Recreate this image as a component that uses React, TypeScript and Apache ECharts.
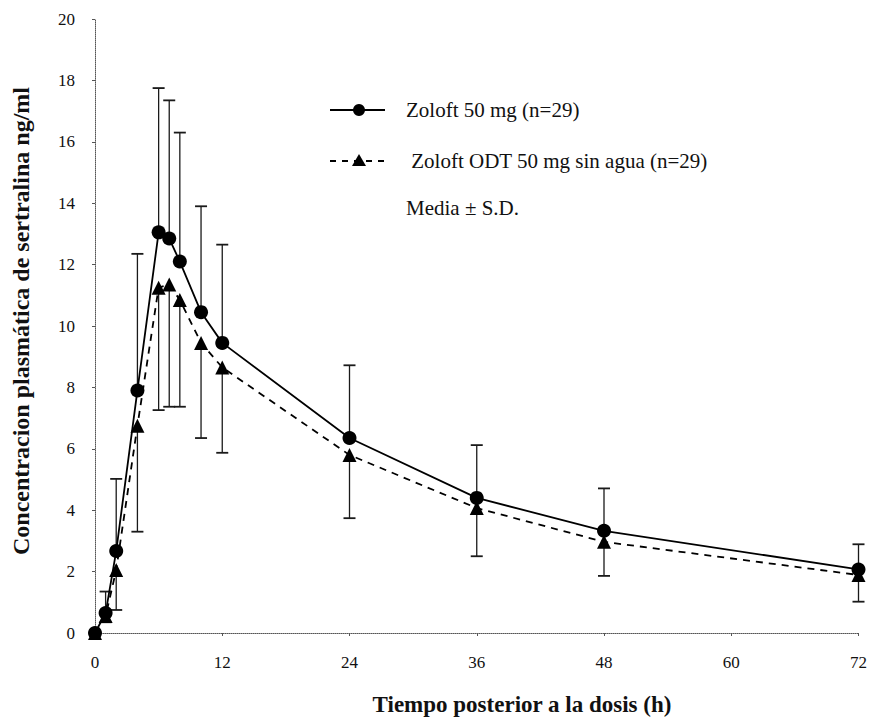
import React, { useEffect, useRef } from "react";
import * as echarts from "echarts";

const hours = [0, 1, 2, 4, 6, 7, 8, 10, 12, 24, 36, 48, 72];
const zoloftMean = [0, 0.65, 2.67, 7.9, 13.05, 12.85, 12.1, 10.45, 9.45, 6.35, 4.4, 3.33, 2.07];
const zoloftUpper = [0, 1.35, 5.02, 12.35, 17.75, 17.35, 16.3, 13.9, 12.65, 8.72, 6.12, 4.71, 2.89];
const odtMean = [0, 0.55, 2.05, 6.75, 11.25, 11.35, 10.85, 9.45, 8.65, 5.8, 4.07, 2.97, 1.89];
const odtLower = [0, 0.35, 0.75, 3.3, 7.26, 7.37, 7.37, 6.35, 5.87, 3.74, 2.5, 1.86, 1.02];
const xTicks = [0, 12, 24, 36, 48, 60, 72];
const yTicks = [0, 2, 4, 6, 8, 10, 12, 14, 16, 18, 20];
const legendLabels = ["Zoloft 50 mg (n=29)", " Zoloft ODT 50 mg sin agua (n=29)", "Media \u00b1 S.D."];
const xTitle = "Tiempo posterior a la dosis (h)";
const yTitle = "Concentracion plasm\u00e1tica de sertralina ng/ml";

const SERIF = "'Liberation Serif', 'DejaVu Serif', serif";

export default function App() {
  const ref = useRef<HTMLDivElement>(null);
  useEffect(() => {
    if (!ref.current) return;
    const chart = echarts.init(ref.current, null, { renderer: "svg" });
    const barData = (means: number[], bounds: number[]) =>
      hours.map((h, i) => [h, means[i], bounds[i]]).filter((d) => d[1] !== d[2]);
    const renderBar = (params: any, api: any) => {
      const x = api.value(0);
      const m = api.value(1);
      const b = api.value(2);
      const p1 = api.coord([x, m]);
      const p2 = api.coord([x, b]);
      return {
        type: "group",
        children: [
          { type: "line", shape: { x1: p1[0], y1: p1[1], x2: p2[0], y2: p2[1] }, style: { stroke: "#1a1a1a", lineWidth: 1.3 } },
          { type: "line", shape: { x1: p2[0] - 6, y1: p2[1], x2: p2[0] + 6, y2: p2[1] }, style: { stroke: "#1a1a1a", lineWidth: 1.8 } },
        ],
      };
    };
    chart.setOption({
      animation: false,
      backgroundColor: "#ffffff",
      grid: { left: 95, right: 7, top: 19, bottom: 85, containLabel: false },
      xAxis: {
        type: "value",
        min: 0,
        max: 72,
        interval: 12,
        axisLine: { show: true, lineStyle: { color: "#555", width: 1, type: "dotted" } },
        axisTick: { show: true, inside: false, length: 3, lineStyle: { color: "#555" } },
        axisLabel: {
          margin: 21,
          fontFamily: SERIF,
          fontSize: 17,
          color: "#111",
          formatter: (v: number) => (xTicks.includes(v) ? String(v) : ""),
        },
        splitLine: { show: false },
      },
      yAxis: {
        type: "value",
        min: 0,
        max: 20,
        interval: 2,
        axisLine: { show: true, lineStyle: { color: "#555", width: 1, type: "dotted" } },
        axisTick: { show: true, inside: false, length: 3, lineStyle: { color: "#555" } },
        axisLabel: {
          margin: 20,
          fontFamily: SERIF,
          fontSize: 17,
          color: "#111",
          formatter: (v: number) => (yTicks.includes(v) ? String(v) : ""),
        },
        splitLine: { show: false },
      },
      series: [
        {
          type: "custom",
          name: "zoloftSD",
          renderItem: renderBar,
          data: barData(zoloftMean, zoloftUpper),
          z: 1,
          silent: true,
        },
        {
          type: "custom",
          name: "odtSD",
          renderItem: renderBar,
          data: barData(odtMean, odtLower),
          z: 1,
          silent: true,
        },
        {
          type: "line",
          name: "Zoloft ODT",
          data: hours.map((h, i) => [h, odtMean[i]]),
          symbol: "triangle",
          symbolSize: 14,
          lineStyle: { color: "#000", width: 1.8, type: [7, 6] },
          itemStyle: { color: "#000" },
          z: 3,
        },
        {
          type: "line",
          name: "Zoloft",
          data: hours.map((h, i) => [h, zoloftMean[i]]),
          symbol: "circle",
          symbolSize: 14,
          lineStyle: { color: "#000", width: 1.8 },
          itemStyle: { color: "#000" },
          z: 4,
        },
      ],
      graphic: [
        { type: "line", shape: { x1: 330, y1: 110, x2: 385, y2: 110 }, style: { stroke: "#000", lineWidth: 1.8 } },
        { type: "circle", shape: { cx: 359, cy: 110, r: 6 }, style: { fill: "#000" } },
        { type: "line", shape: { x1: 330, y1: 161, x2: 385, y2: 161 }, style: { stroke: "#000", lineWidth: 1.8, lineDash: [6, 6] } },
        { type: "polygon", shape: { points: [[359, 154], [352, 166], [366, 166]] }, style: { fill: "#000" } },
        { type: "text", x: 406, y: 110, style: { text: legendLabels[0], font: `21px ${SERIF}`, fill: "#111", verticalAlign: "middle" } },
        { type: "text", x: 406, y: 161, style: { text: legendLabels[1], font: `21px ${SERIF}`, fill: "#111", verticalAlign: "middle" } },
        { type: "text", x: 406, y: 208, style: { text: legendLabels[2], font: `21px ${SERIF}`, fill: "#111", verticalAlign: "middle" } },
        { type: "text", x: 522, y: 704, style: { text: xTitle, font: `bold 23px ${SERIF}`, fill: "#111", align: "center", verticalAlign: "middle" } },
        { type: "text", x: 21, y: 321, rotation: Math.PI / 2, style: { text: yTitle, font: `bold 24px ${SERIF}`, fill: "#111", align: "center", verticalAlign: "middle" } },
      ],
    });
    return () => chart.dispose();
  }, []);
  return <div ref={ref} style={{ position: "fixed", left: 0, top: 0, width: 870, height: 718 }} />;
}
